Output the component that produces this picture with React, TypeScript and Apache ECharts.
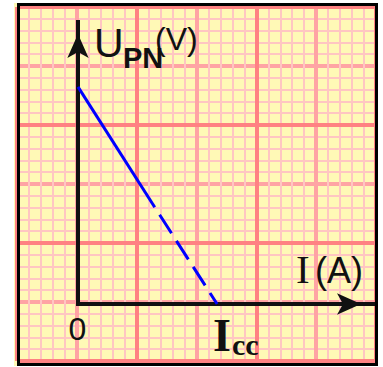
import React, { useEffect, useRef } from 'react';
import * as echarts from 'echarts';

// Graph paper, counted in minor squares
const paperMin = 0;
const paperMax = 30;
const mediumStep = 5;
const majorStep = 10;
const minorPerMedium = 5;

// Axis ranges of the characteristic (in minor squares)
const axisMaxI = 24.6;
const axisMaxU = 23.9;

// Characteristic U_PN = f(I): solid part then dashed extrapolation to Icc
const solidI = [0, 6.4];
const solidU = [18.4, 8.2];
const dashedI = [6.4, 11.6];
const dashedU = [8.2, 0];

// Texts
const yName = 'U';
const ySub = 'PN';
const yUnit = '(V)';
const xName = 'I';
const xUnit = '(A)';
const originLabel = '0';
const iccMain = 'I';
const iccSub = 'cc';

const SANS = '"Liberation Sans", Arial, sans-serif';
const SERIF = '"Liberation Serif", "Times New Roman", serif';

const hidden = {
  axisLine: { show: false },
  axisTick: { show: false },
  axisLabel: { show: false },
};

function txt(text: string, x: number, y: number, font: string, align = 'left') {
  return {
    type: 'text',
    z: 50,
    silent: true,
    x,
    y,
    style: {
      text,
      font,
      fill: '#111111',
      align,
      verticalAlign: 'middle',
      textAlign: align,
      textVerticalAlign: 'middle',
    },
  };
}

export default function App() {
  const ref = useRef<HTMLDivElement>(null);

  useEffect(() => {
    document.body.style.margin = '0';
    if (!ref.current) return;
    const chart = echarts.init(ref.current, undefined, { renderer: 'svg' });

    const arrowLine = {
      show: true,
      onZero: false,
      symbol: ['none', 'arrow'],
      symbolSize: [16, 24],
      symbolOffset: [0, -12],
      lineStyle: { color: '#111111', width: 4, cap: 'square' },
    };

    const option = {
      animation: false,
      backgroundColor: '#ffffff',
      grid: [
        { left: 17, top: 7, width: 359, height: 354, show: false },
        { left: 78, top: 22, right: 10, bottom: 63, show: false },
      ],
      xAxis: [
        {
          gridIndex: 0, type: 'value', min: paperMin, max: paperMax, interval: mediumStep, ...hidden,
          splitLine: { show: true, lineStyle: { color: '#FFA4A4', width: 4 } },
          minorTick: { show: false, splitNumber: minorPerMedium },
          minorSplitLine: { show: true, lineStyle: { color: '#FFC6C2', width: 2 } },
        },
        {
          gridIndex: 0, type: 'value', min: paperMin, max: paperMax, interval: majorStep, ...hidden, z: 1,
          splitLine: { show: true, lineStyle: { color: '#FF8282', width: 4 } },
        },
        {
          gridIndex: 1, type: 'value', min: 0, max: axisMaxI, z: 2,
          axisLine: arrowLine, axisTick: { show: false }, axisLabel: { show: false }, splitLine: { show: false },
        },
      ],
      yAxis: [
        {
          gridIndex: 0, type: 'value', min: paperMin, max: paperMax, interval: mediumStep, ...hidden,
          splitLine: { show: true, lineStyle: { color: '#FFA4A4', width: 4 } },
          minorTick: { show: false, splitNumber: minorPerMedium },
          minorSplitLine: { show: true, lineStyle: { color: '#FFC6C2', width: 2 } },
        },
        {
          gridIndex: 0, type: 'value', min: paperMin, max: paperMax, interval: majorStep, ...hidden, z: 1,
          splitLine: { show: true, lineStyle: { color: '#FF8282', width: 4 } },
        },
        {
          gridIndex: 1, type: 'value', min: 0, max: axisMaxU, z: 2,
          axisLine: arrowLine, axisTick: { show: false }, axisLabel: { show: false }, splitLine: { show: false },
        },
      ],
      series: [
        {
          type: 'line', xAxisIndex: 2, yAxisIndex: 2, z: 5, clip: false,
          data: solidI.map((v, i) => [v, solidU[i]]),
          symbol: 'none',
          lineStyle: { color: '#0000FF', width: 3 },
        },
        {
          type: 'line', xAxisIndex: 2, yAxisIndex: 2, z: 5, clip: false,
          data: dashedI.map((v, i) => [v, dashedU[i]]),
          symbol: 'none',
          lineStyle: { color: '#0000FF', width: 3, type: [22, 9], dashOffset: 22 },
        },
      ],
      graphic: [
        { type: 'rect', z: -10, silent: true, shape: { x: 14, y: 3, width: 364, height: 363 }, style: { fill: '#FFF9B6' } },
        { type: 'rect', z: 100, silent: true, shape: { x: 18.5, y: 4.5, width: 358, height: 360 }, style: { fill: 'none', stroke: '#000000', lineWidth: 3 } },
        txt(yName, 94, 43, `41px ${SANS}`),
        txt(ySub, 123, 57.5, `bold 29px ${SANS}`),
        txt(yUnit, 155, 38.5, `32px ${SANS}`),
        txt(xName, 296, 268.5, `41px ${SERIF}`),
        txt(xUnit, 315, 270, `36px ${SANS}`),
        txt(originLabel, 77.5, 328.5, `32px ${SANS}`, 'center'),
        txt(iccMain, 213, 335.5, `bold 46px ${SERIF}`),
        txt(iccSub, 232, 344, `bold 30px ${SERIF}`),
      ],
    };

    chart.setOption(option as any);
    return () => chart.dispose();
  }, []);

  return (
    <div
      ref={ref}
      style={{ position: 'fixed', left: 0, top: 0, width: 383, height: 367 }}
    />
  );
}
